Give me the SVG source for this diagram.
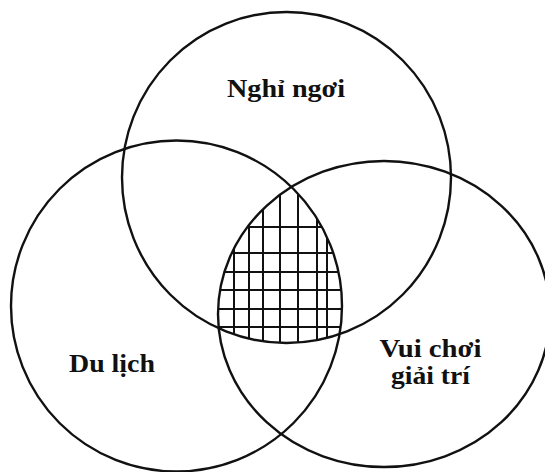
<svg xmlns="http://www.w3.org/2000/svg" width="545" height="472" viewBox="0 0 545 472">
<style>
.c{fill:none;stroke:#111;stroke-width:2.4}
.g line{stroke:#111;stroke-width:2}
.t{font-family:"Liberation Serif","Times New Roman",serif;font-weight:bold;font-size:25px;fill:#111;text-anchor:middle}
</style>
<defs>
<clipPath id="cTop"><ellipse cx="286.5" cy="177.5" rx="164.5" ry="165.5"/></clipPath>
<clipPath id="cLeft"><ellipse cx="176.5" cy="306" rx="165.5" ry="165.5"/></clipPath>
<clipPath id="cRight"><ellipse cx="384" cy="314" rx="166" ry="153"/></clipPath>
</defs>
<rect width="545" height="472" fill="#fff"/>
<g id="hatch" clip-path="url(#cTop)"><g clip-path="url(#cLeft)"><g clip-path="url(#cRight)" class="g">
<line x1="234" y1="150" x2="234" y2="360"/>
<line x1="249" y1="150" x2="249" y2="360"/>
<line x1="263" y1="150" x2="263" y2="360"/>
<line x1="280" y1="150" x2="280" y2="360"/>
<line x1="298" y1="150" x2="298" y2="360"/>
<line x1="317" y1="150" x2="317" y2="360"/>
<line x1="327" y1="150" x2="327" y2="360"/>
<line x1="200" y1="227" x2="360" y2="227"/>
<line x1="200" y1="253" x2="360" y2="253"/>
<line x1="200" y1="272" x2="360" y2="272"/>
<line x1="200" y1="290" x2="360" y2="290"/>
<line x1="200" y1="309" x2="360" y2="309"/>
<line x1="200" y1="327" x2="360" y2="327"/>
</g></g></g>
<g id="nghi-ngoi">
<ellipse class="c" cx="286.5" cy="177.5" rx="164.5" ry="165.5"/>
<text class="t" x="286" y="97" textLength="118" lengthAdjust="spacingAndGlyphs">Nghỉ ngơi</text>
</g>
<g id="du-lich">
<ellipse class="c" cx="176.5" cy="306" rx="165.5" ry="165.5"/>
<text class="t" x="112" y="372" textLength="86" lengthAdjust="spacingAndGlyphs">Du lịch</text>
</g>
<g id="vui-choi">
<ellipse class="c" cx="384" cy="314" rx="166" ry="153"/>
<text class="t" x="430.5" y="357" textLength="102" lengthAdjust="spacingAndGlyphs">Vui chơi</text>
<text class="t" x="430.5" y="384" textLength="79" lengthAdjust="spacingAndGlyphs">giải trí</text>
</g>
<g id="connectors"></g>
</svg>
